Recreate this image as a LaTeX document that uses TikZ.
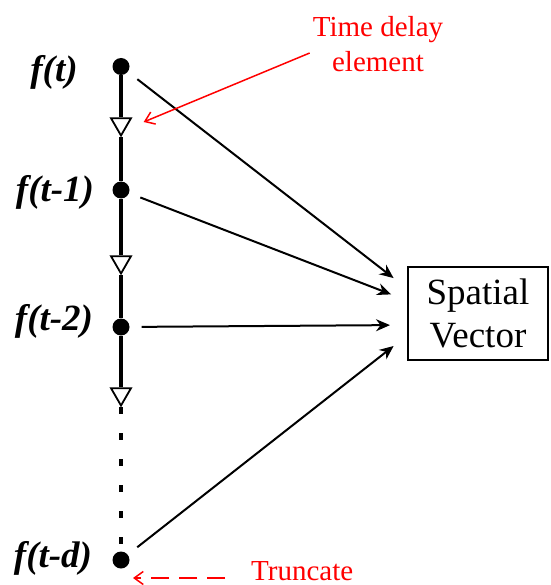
\documentclass[tikz,border=0pt]{standalone}
\usepackage{fontspec}
\setmainfont{Liberation Serif}
\usepackage{tikz}
\usetikzlibrary{arrows.meta,positioning,shapes.geometric,calc}
\definecolor{notered}{RGB}{255,0,0}

\begin{document}
\begin{tikzpicture}[x=1pt,y=-1pt,
  tap/.style={circle, fill=black, inner sep=0pt, minimum size=17pt},
  delay/.style={draw, line width=1.8pt, fill=white, regular polygon,
                regular polygon sides=3, shape border rotate=180,
                inner sep=0pt, minimum size=23pt},
  lbl/.style={font=\fontsize{37}{43}\selectfont\bfseries\itshape},
  wire/.style={line width=3.5pt},
  arrow/.style={-{Stealth[length=14pt,width=12pt]}, line width=2pt,
                shorten <=12pt, shorten >=17pt},
  note/.style={text=notered, font=\fontsize{29}{35}\selectfont,
               align=center, inner sep=0pt},
  notearrow/.style={-{Straight Barb[length=9pt,width=13pt]}, draw=notered,
                    line width=1.5pt}
]
\useasboundingbox (0,0) rectangle (550,585);

\node[tap] (p0) at (121,66.5) {};
\node[delay] (d1) at (121,124) {};
\node[tap] (p1) at (121,190) {};
\node[delay] (d2) at (121,262) {};
\node[tap] (p2) at (121,327) {};
\node[delay] (d3) at (121,394) {};
\node[tap] (p3) at (121,560) {};

\node[lbl] (l0) at (54,72) {f(t)};
\node[lbl] (l1) at (55,192) {f(t-1)};
\node[lbl] (l2) at (54,321) {f(t-2)};
\node[lbl] (l3) at (53,558) {f(t-d)};

\node[draw, line width=2pt, minimum width=140pt, minimum height=93pt,
      align=center, font=\fontsize{37}{43}\selectfont] (sv) at (478,313.5)
  {Spatial\\Vector};

\draw[wire] (p0) -- (d1);
\draw[wire] (d1) -- (p1);
\draw[wire] (p1) -- (d2);
\draw[wire] (d2) -- (p2);
\draw[wire] (p2) -- (d3);
\draw[wire, dash pattern=on 7pt off 19pt] (d3) -- (p3);

\draw[arrow] (p0) -- ($(sv.west)+(0,-25)$);
\draw[arrow] (p1) -- ($(sv.west)+(0,-13)$);
\draw[arrow] (p2) -- ($(sv.west)+(0,11.5)$);
\draw[arrow] (p3) -- ($(sv.west)+(0,22)$);

\node[note] (tde) at (378,44) {Time delay\\element};
\draw[notearrow] ($(tde.west)+(-3,9)$) -- ($(d1.east)+(15,-2)$);

\node[note, anchor=base west] (tr) at (251,580) {Truncate};
\draw[notearrow, dash pattern=on 18pt off 10pt]
  ($(tr.base west)+(-26,-2)$) -- ($(p3)+(12,18)$);
\end{tikzpicture}
\end{document}
